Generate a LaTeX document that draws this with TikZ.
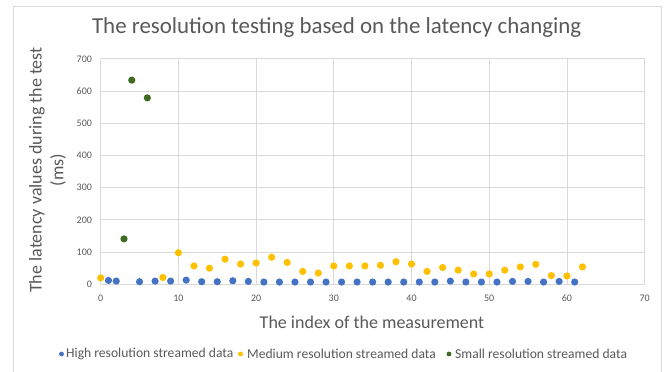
\documentclass[tikz,border=0pt]{standalone}
\usepackage{fontspec}
\setmainfont{Carlito}
\definecolor{txt}{HTML}{595959}
\definecolor{gridc}{HTML}{D9D9D9}
\definecolor{bordc}{HTML}{D9D9D9}
\definecolor{hiC}{HTML}{4472C4}
\definecolor{medC}{HTML}{FFC000}
\definecolor{smC}{HTML}{3E6B22}
\tikzset{
  gridline/.style={draw=gridc, line width=0.8pt},
  ticklab/.style={font=\fontsize{10}{12}\selectfont, text=txt, inner sep=0pt},
  axtitle/.style={font=\fontsize{18}{22}\selectfont, text=txt, inner sep=0pt},
  legtext/.style={font=\fontsize{13.6}{16}\selectfont, text=txt, inner sep=0pt, anchor=west},
  hipt/.style={fill=hiC},
  medpt/.style={fill=medC},
  smpt/.style={fill=smC},
}
\begin{document}
\begin{tikzpicture}[x=1pt,y=1pt]
\useasboundingbox (0,0) rectangle (667,372);
\fill[white] (0,0) rectangle (667,372);
\draw[draw=bordc, line width=0.8pt] (13,0) -- (13,365.3) -- (661,365.3) -- (661,0);
% title
\node[font=\fontsize{22.9}{26}\selectfont, text=txt, inner sep=0pt] (title) at (336.7,344) {The resolution testing based on the latency changing};
% axis titles
\node[axtitle, rotate=90] (ylab1) at (37,202) {The latency values during the test};
\node[axtitle, rotate=90] (ylab2) at (58,202) {(ms)};
\node[axtitle] (xlab) at (372,50) {The index of the measurement};
% plot
\begin{scope}[shift={(100.7,87.7)}, x=7.77pt, y=0.322pt]
  \foreach \g in {0,10,...,70} \draw[gridline] (\g,0) -- (\g,700);
  \foreach \g in {0,100,...,700} \draw[gridline] (0,\g) -- (70,\g);
  \foreach \g in {0,100,...,700} \node[ticklab, anchor=east] (yt\g) at (-1.1,\g) {\g};
  \foreach \g in {0,10,...,70} \node[ticklab] (xt\g) at (\g,-42.5) {\g};
  % high resolution
  \foreach \px/\py in {1/12,2/10,5/8,7/10,9/10,11/13,13/8,15/8,17/11,19/9,21/7,23/7,25/7,27/7,29/7,31/7,33/7,35/7,37/7,39/7,41/7,43/7,45/10,47/7,49/7,51/7,53/9,55/9,57/7,59/9,61/7}
    \fill[hipt] (\px,\py) circle[radius=3.6pt];
  % medium resolution
  \foreach \px/\py in {0/20,8/21,10/98,12/57,14/50,16/78,18/63,20/66,22/84,24/68,26/40,28/35,30/57,32/57,34/57,36/59,38/70,40/63,42/40,44/52,46/44,48/32,50/32,52/44,54/54,56/62,58/27,60/26,62/54}
    \fill[medpt] (\px,\py) circle[radius=3.6pt];
  % small resolution
  \foreach \px/\py in {3/141,4/634,6/579}
    \fill[smpt] (\px,\py) circle[radius=3.6pt];
\end{scope}
% legend
\fill[hipt] (61.5,18) circle[radius=2.4pt];
\node[legtext] (leg1) at (66,18) {High resolution streamed data};
\fill[medpt] (240.5,18) circle[radius=2.4pt];
\node[legtext] (leg2) at (247,18) {Medium resolution streamed data};
\fill[smpt] (449,18) circle[radius=2.4pt];
\node[legtext] (leg3) at (455,18) {Small resolution streamed data};
\end{tikzpicture}
\end{document}
